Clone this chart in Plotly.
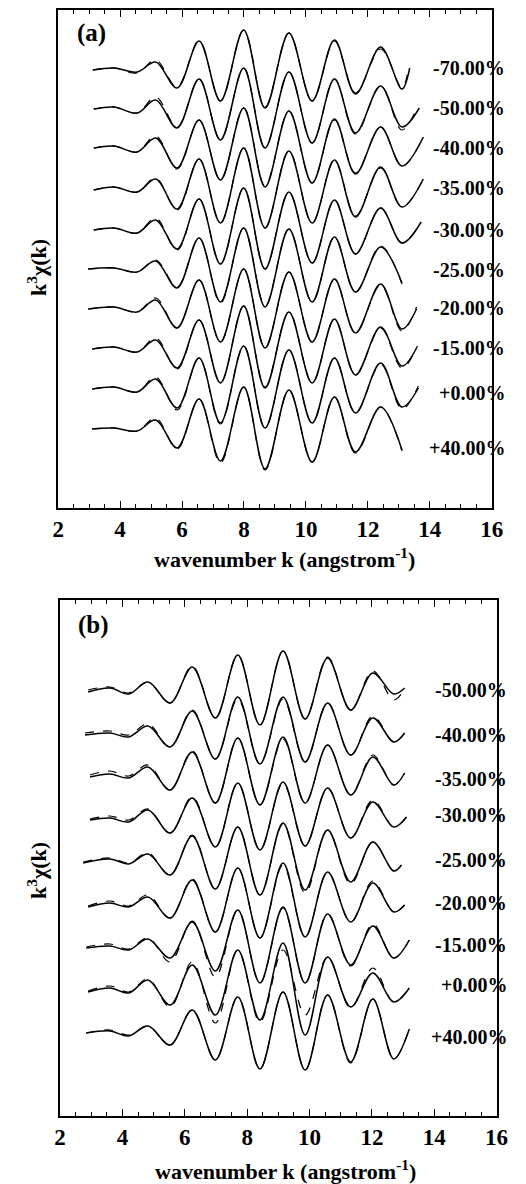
import plotly.graph_objects as go

# ---------------- Panel (a) data ----------------
A_LABELS = ["-70.00%", "-50.00%", "-40.00%", "-35.00%", "-30.00%",
            "-25.00%", "-20.00%", "-15.00%", "+0.00%", "+40.00%"]
A_OFFSET = [438, 399, 360, 318, 278, 239, 199, 159, 119, 79]
A_LABEL_Y = [440, 400, 360, 320, 278, 238, 200, 160, 115, 60]
A_START_K = [3.12, 3.15, 3.15, 3.15, 3.15, 2.97, 2.97, 3.1, 3.1, 3.1]
A_K = [3.8, 4.55, 5.15, 5.84, 6.55, 7.24, 7.99, 8.68, 9.45, 10.2, 10.92, 11.6, 12.41, 13.1]
A_SOLID = [
    [0, 2, -2, 8, -18, 29, -31, 40, -38, 37, -31, 30, -24, 23, -19],
    [0, 2, -4, 9, -19, 30, -31, 41, -39, 37, -34, 30, -24, 23, -18],
    [0, 2, -4, 10, -20, 28, -32, 40, -39, 37, -35, 29, -26, 21, -18],
    [0, 3, -2, 11, -19, 31, -33, 42, -38, 39, -33, 30, -27, 23, -17],
    [0, 2, -3, 10, -19, 31, -34, 42, -39, 38, -33, 30, -24, 22, -13],
    [0, 1, -3, 8, -19, 31, -33, 41, -38, 40, -33, 32, -23, 22, -14],
    [0, 2, -3, 9, -19, 29, -33, 40, -39, 37, -33, 30, -24, 25, -20],
    [0, 2, -3, 9, -19, 29, -34, 43, -39, 37, -34, 30, -26, 22, -17],
    [0, 2, -3, 10, -19, 31, -34, 43, -39, 39, -34, 31, -24, 26, -18],
    [0, 1, -2, 9, -19, 30, -32, 42, -40, 39, -33, 32, -23, 22, -21],
]
A_DASH = [
    [0, 2, -3, 10, -17, 29, -31, 40, -37, 37, -31, 29, -23, 21, -18],
    [0, 2, -4, 12, -18, 30, -31, 41, -39, 37, -34, 30, -25, 23, -21],
    [0, 2, -4, 12, -21, 28, -32, 40, -38, 37, -35, 28, -25, 21, -18],
    [0, 3, -2, 12, -20, 31, -33, 42, -38, 39, -33, 30, -26, 22, -17],
    [0, 2, -3, 12, -20, 31, -34, 42, -39, 38, -33, 30, -24, 22, -13],
    [0, 1, -3, 9, -18, 31, -34, 41, -37, 40, -33, 32, -23, 23, -15],
    [0, 2, -3, 11, -19, 29, -33, 40, -39, 37, -33, 30, -24, 24, -22],
    [0, 2, -3, 11, -20, 29, -34, 43, -38, 37, -34, 30, -26, 21, -19],
    [0, 2, -3, 12, -21, 31, -35, 43, -39, 39, -34, 31, -24, 25, -20],
    [0, 1, -2, 11, -20, 30, -34, 42, -41, 39, -33, 32, -24, 22, -22],
]
# final upturn (k, value) or None
A_END = [(13.35, 2), (13.66, 1), (13.79, 11), (13.79, 11), (13.72, 8),
         None, (13.57, 0), (13.57, 1), (13.63, 1), None]
A_END_DASH = [(13.3, 0), (13.62, 4), (13.79, 11), (13.79, 11), (13.72, 8),
              None, (13.57, 2), (13.6, 3), (13.63, 3), None]

# ---------------- Panel (b) data ----------------
B_LABELS = ["-50.00%", "-40.00%", "-35.00%", "-30.00%", "-25.00%",
            "-20.00%", "-15.00%", "+0.00%", "+40.00%"]
B_OFFSET = [424, 381, 339, 296, 253, 209, 168, 124, 83]
B_LABEL_Y = [426, 381, 337, 301, 256, 213, 171, 131, 79]
B_START_K = [2.9, 2.8, 2.96, 2.96, 2.74, 2.9, 2.84, 2.9, 2.84]
B_END_K = [13.05, 13.05, 13.05, 13.11, 12.95, 13.05, 13.2, 13.2, 13.2]
B_K = [3.6, 4.2, 4.82, 5.53, 6.24, 6.98, 7.70, 8.41, 9.15, 9.86, 10.58, 11.32, 12.03, 12.7]
B_SOLID = [
    [0, 4, -2, 10, -11, 25, -26, 37, -33, 41, -27, 34, -18, 19, -2, 4],
    [0, 2, -2, 9, -12, 24, -24, 38, -29, 38, -27, 32, -20, 17, -7, 2],
    [0, 3, -1, 10, -13, 25, -26, 39, -28, 40, -26, 32, -18, 20, -8, 4],
    [0, 2, -2, 10, -13, 22, -27, 37, -30, 38, -26, 32, -18, 18, -7, 3],
    [0, 4, -1, 9, -12, 27, -26, 36, -32, 40, -27, 33, -19, 21, -8, -2],
    [0, 4, 0, 10, -11, 27, -25, 39, -31, 44, -30, 35, -15, 24, -5, 2],
    [0, 2, -2, 9, -10, 26, -23, 38, -35, 41, -35, 34, -17, 22, -10, 8],
    [0, 4, -1, 12, -13, 27, -23, 42, -28, 49, -43, 35, -15, 19, -10, 4],
    [0, 2, -3, 7, -12, 23, -27, 36, -36, 41, -37, 38, -29, 34, -26, 4],
]
B_DASH = [
    [2, 5, -1, 10, -11, 26, -26, 37, -33, 41, -27, 35, -18, 21, -8, 3],
    [2, 4, 0, 11, -12, 25, -24, 36, -29, 36, -27, 32, -20, 19, -7, 2],
    [2, 6, 1, 12, -13, 26, -26, 39, -28, 38, -26, 32, -18, 22, -8, 4],
    [1, 4, 0, 11, -13, 23, -27, 37, -30, 37, -26, 32, -18, 20, -7, 3],
    [1, 5, 0, 10, -12, 28, -26, 36, -32, 39, -30, 33, -21, 21, -8, -2],
    [1, 6, 1, 12, -11, 28, -25, 39, -31, 42, -30, 35, -15, 26, -5, 2],
    [1, 4, -1, 10, -14, 27, -29, 38, -35, 40, -35, 34, -18, 24, -10, 8],
    [1, 6, 0, 13, -15, 30, -31, 42, -30, 42, -23, 35, -16, 24, -10, 4],
    [0, 3, -2, 7, -12, 23, -27, 36, -36, 41, -37, 38, -30, 34, -26, 4],
]

FONT = "Liberation Serif, Times New Roman, serif"
W, H = 526, 1184

fig = go.Figure()


def add_curve(xs, ys, off, xa, ya, dash):
    fig.add_trace(go.Scatter(
        x=xs, y=[v + off for v in ys], mode="lines",
        line=dict(color="black", width=1.5 if dash == "solid" else 1.2,
                  dash=dash, shape="spline", smoothing=1.0),
        xaxis=xa, yaxis=ya, showlegend=False, hoverinfo="skip"))


for i in range(len(A_LABELS)):
    for vals, end, dash in ((A_DASH[i], A_END_DASH[i], "dash"),
                            (A_SOLID[i], A_END[i], "solid")):
        xs = [A_START_K[i]] + A_K
        ys = list(vals)
        if end is not None:
            xs = xs + [end[0]]
            ys = ys + [end[1]]
        add_curve(xs, ys, A_OFFSET[i], "x", "y", dash)

for i in range(len(B_LABELS)):
    for vals, dash in ((B_DASH[i], "dash"), (B_SOLID[i], "solid")):
        xs = [B_START_K[i]] + B_K + [B_END_K[i]]
        add_curve(xs, vals, B_OFFSET[i], "x2", "y2", dash)


def px2x(p):
    return p / W


def py2y(p):
    return 1 - p / H


xcommon = dict(range=[2, 16], dtick=2, tick0=2, ticks="inside", ticklen=7,
               tickwidth=1, tickcolor="black", showline=True, linecolor="black",
               linewidth=1.5, mirror="allticks", showgrid=False, zeroline=False,
               tickfont=dict(family=FONT, size=23, color="black", weight="bold"),
               minor=dict(ticks="inside", ticklen=4, dtick=0.5, tickcolor="black",
                          showgrid=False))
ycommon = dict(showline=True, linecolor="black", linewidth=1.5, mirror=True,
               showticklabels=False, ticks="", showgrid=False, zeroline=False)

fig.update_layout(
    width=W, height=H, margin=dict(l=0, r=0, t=0, b=0),
    paper_bgcolor="white", plot_bgcolor="white",
    xaxis=dict(domain=[px2x(54), px2x(503)], anchor="y", **xcommon),
    yaxis=dict(domain=[py2y(508), py2y(10)], range=[0, 498], anchor="x", **ycommon),
    xaxis2=dict(domain=[px2x(56), px2x(508)], anchor="y2", **xcommon),
    yaxis2=dict(domain=[py2y(1116), py2y(600)], range=[0, 516], anchor="x2", **ycommon),
)

ann = []
lf = dict(family=FONT, size=20, color="black", weight="bold")
for lab, y in zip(A_LABELS, A_LABEL_Y):
    ann.append(dict(x=16, y=y, xref="x", yref="y", text=lab, showarrow=False,
                    xanchor="right", yanchor="middle", font=lf, xshift=15))
for lab, y in zip(B_LABELS, B_LABEL_Y):
    ann.append(dict(x=16, y=y, xref="x2", yref="y2", text=lab, showarrow=False,
                    xanchor="right", yanchor="middle", font=lf, xshift=12))

tf = dict(family=FONT, size=22, color="black", weight="bold")
xt = "wavenumber k (angstrom<sup>-1</sup>)"
yt = "k<sup>3</sup>\u03c7(k)"
ann += [
    dict(x=px2x(288), y=py2y(558), xref="paper", yref="paper", text=xt,
         showarrow=False, font=tf, xanchor="center", yanchor="middle"),
    dict(x=px2x(289), y=py2y(1170), xref="paper", yref="paper", text=xt,
         showarrow=False, font=tf, xanchor="center", yanchor="middle"),
    dict(x=px2x(32), y=py2y(267), xref="paper", yref="paper", text=yt,
         showarrow=False, font=tf, textangle=-90, xanchor="center", yanchor="middle"),
    dict(x=px2x(32), y=py2y(870), xref="paper", yref="paper", text=yt,
         showarrow=False, font=tf, textangle=-90, xanchor="center", yanchor="middle"),
    dict(x=px2x(89), y=py2y(33), xref="paper", yref="paper", text="(a)",
         showarrow=False, font=dict(family=FONT, size=25, color="black", weight="bold"),
         xanchor="center", yanchor="middle"),
    dict(x=px2x(91), y=py2y(625), xref="paper", yref="paper", text="(b)",
         showarrow=False, font=dict(family=FONT, size=25, color="black", weight="bold"),
         xanchor="center", yanchor="middle"),
]
fig.update_layout(annotations=ann)

fig.write_html("out.html")
